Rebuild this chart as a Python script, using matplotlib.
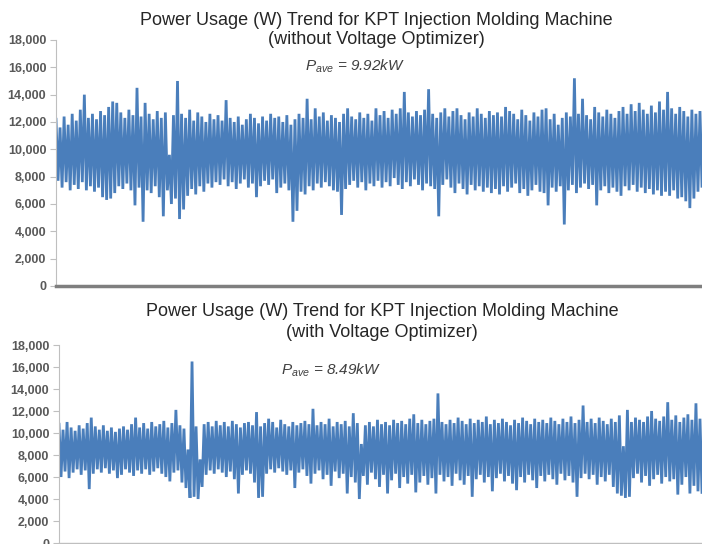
'''
Power usage trend of the KPT injection molding machine,
without and with the voltage optimizer.
'''

import numpy as np
import matplotlib.pyplot as plt

plt.rcParams['font.family'] = ['Liberation Sans', 'DejaVu Sans']
plt.rcParams['mathtext.fontset'] = 'custom'
plt.rcParams['mathtext.it'] = 'Liberation Sans:italic'
plt.rcParams['mathtext.rm'] = 'Liberation Sans'

top_high = [12200, 11600, 12400, 11800, 12600, 12100, 12900, 14000, 12300, 12600,
            12200, 12800, 12500, 13100, 13500, 13400, 12700, 12300, 12900, 12500,
            14500, 12400, 13400, 12600, 12200, 12800, 12300, 12700, 9600, 12500,
            15000, 12600, 12300, 12900, 12100, 12700, 12400, 12000, 12600, 12200,
            12500, 12100, 13600, 12300, 12000, 12400, 11800, 12200, 12600, 12300,
            11900, 12400, 12100, 12600, 12300, 12400, 12000, 12500, 11800, 12200,
            12600, 12300, 13700, 12200, 13000, 12400, 12700, 12100, 12500, 12300,
            12000, 12600, 13000, 12400, 12200, 12700, 12300, 12600, 12100, 13000,
            12500, 12800, 12300, 12900, 12600, 13000, 14200, 12700, 12400, 12800,
            12500, 12900, 14400, 12600, 12300, 12700, 13000, 12400, 12800, 13000,
            12500, 12200, 12700, 12400, 13000, 12600, 12300, 12800, 12500, 12700,
            12400, 13100, 12800, 12600, 12200, 12900, 12500, 12100, 12700, 12400,
            12900, 13000, 12200, 12600, 11800, 12300, 12700, 12400, 15200, 12600,
            13700, 12500, 12200, 13100, 12700, 12400, 12900, 12600, 12300, 12800,
            13100, 12600, 13300, 12800, 13400, 12900, 12600, 13200, 12700, 13500,
            12900, 14200, 13000, 12600, 13100, 12800, 12400, 12900, 12600, 12800]
top_low = [7700, 7200, 7600, 7000, 7400, 7100, 7600, 7000, 7300, 6900,
           7200, 6500, 6300, 6400, 6800, 7300, 7100, 7500, 7000, 5900,
           7200, 4700, 7000, 6800, 7300, 6500, 5100, 7000, 6000, 6400,
           4900, 5600, 6600, 7100, 6700, 7300, 6900, 7500, 7200, 7600,
           7400, 7800, 7300, 7600, 7100, 7500, 7800, 7200, 7500, 6500,
           7300, 7700, 7400, 7800, 6800, 7200, 7500, 7000, 4700, 5500,
           6900, 6700, 7300, 7000, 7500, 7200, 7600, 7300, 7000, 6900,
           5200, 7100, 7400, 7700, 7200, 7600, 7000, 7500, 7300, 7700,
           7200, 7600, 7300, 7900, 7400, 7100, 7600, 7300, 7800, 7400,
           7000, 7500, 7300, 7100, 5100, 7400, 7800, 7200, 6800, 7500,
           7100, 6700, 7400, 7000, 7300, 6900, 7200, 6800, 7100, 6700,
           7300, 6900, 7200, 7500, 6800, 7100, 6600, 7000, 7400, 6900,
           6800, 5900, 7200, 6900, 7300, 4500, 7000, 7400, 6800, 7200,
           7500, 7100, 7400, 5900, 7000, 7300, 6800, 7200, 6900, 6600,
           7300, 7000, 7400, 6900, 7200, 6800, 7100, 6700, 7000, 6600,
           6900, 6600, 7000, 6400, 6500, 6200, 5700, 6400, 6900, 7300]

bottom_high = [10800, 10300, 11000, 10500, 10200, 10700, 10400, 10900, 11400, 10600,
               10300, 10700, 10200, 10500, 10100, 10400, 10600, 10300, 10800, 11400,
               10500, 10900, 10400, 11000, 10600, 10800, 11100, 10500, 10900, 12100,
               10700, 10400, 8500, 16500, 10600, 7600, 10800, 11000, 10600, 11100,
               10700, 11000, 10600, 11100, 10800, 10500, 10900, 11000, 10700, 11900,
               10600, 10900, 11300, 11000, 10500, 11200, 10800, 10600, 11000, 10700,
               10900, 11100, 10800, 12200, 10700, 11000, 10800, 11300, 10600, 11000,
               10800, 11100, 10600, 11800, 10900, 9000, 10700, 11000, 10600, 11200,
               10800, 11000, 10700, 11200, 10900, 11100, 10800, 11300, 11700, 10900,
               11200, 10800, 11100, 11300, 13600, 11000, 10800, 11200, 10900, 11400,
               11100, 10800, 11300, 10900, 11200, 11000, 11500, 10800, 11200, 10900,
               11300, 11000, 10700, 11200, 10900, 11400, 11100, 10800, 11300, 11000,
               11200, 10900, 11400, 11100, 10800, 11300, 11000, 11500, 10900, 11200,
               12500, 11000, 11300, 10900, 11400, 11100, 10800, 11300, 11000, 11600,
               8800, 12100, 11000, 11400, 11200, 11000, 11500, 12000, 11300, 11100,
               11500, 12800, 11200, 11600, 11000, 11400, 11700, 11200, 12700, 11300]
bottom_low = [6000, 6500, 5900, 6400, 6700, 6200, 6600, 4900, 6300, 6700,
              6400, 6800, 6300, 6600, 5900, 6200, 6700, 6400, 6100, 6600,
              6300, 6700, 6200, 6500, 6800, 6300, 6000, 5600, 6400, 6600,
              5500, 5000, 4100, 4200, 4000, 5100, 6200, 6600, 6300, 6700,
              6400, 6000, 6500, 5800, 4500, 6200, 6600, 6300, 5500, 4100,
              4200, 6300, 6700, 6400, 6800, 6500, 6200, 6600, 5000, 6400,
              6700, 6100, 5400, 6300, 6600, 5800, 6200, 5200, 6500, 5900,
              6300, 4500, 6000, 5500, 4000, 6100, 5300, 6400, 5800, 5100,
              6200, 4500, 5700, 6300, 5000, 6000, 5400, 6200, 4600, 5500,
              6100, 5300, 5900, 4500, 6200, 5600, 6000, 5200, 6300, 5700,
              5300, 6100, 4200, 5800, 6200, 5500, 6000, 4700, 5900, 6300,
              5600, 6100, 5400, 4800, 6000, 5500, 6200, 5700, 5000, 6100,
              5600, 6200, 5800, 5300, 6300, 5700, 6100, 5500, 4200, 5900,
              6300, 5800, 6200, 5300, 6000, 5600, 6200, 5100, 4500, 4300,
              4100, 4200, 5900, 6300, 5500, 6100, 5200, 5800, 6200, 5400,
              6000, 5600, 5800, 4400, 5300, 6000, 4500, 5200, 4700, 4600]

titles = ['Power Usage (W) Trend for KPT Injection Molding Machine\n(without Voltage Optimizer)',
          'Power Usage (W) Trend for KPT Injection Molding Machine\n(with Voltage Optimizer)']
averages = ['9.92kW', '8.49kW']
y_ticks = [0, 2000, 4000, 6000, 8000, 10000, 12000, 14000, 16000, 18000]

LINE_BLUE = '#4A7EBB'
GRID_GRAY = '#BFBFBF'
LABEL_GRAY = '#595959'


def interleave(high, low):
    # one spike per slot: top reading then bottom reading
    series = np.empty(2 * len(high))
    series[0::2] = high
    series[1::2] = low
    return series


def style_axis(ax, bottom_color, bottom_width):
    ax.set_ylim(0, 18000)
    ax.set_yticks(y_ticks)
    ax.set_yticklabels([f'{t:,}' for t in y_ticks])
    ax.set_xticks([])
    for side in ('top', 'right'):
        ax.spines[side].set_visible(False)
    ax.spines['left'].set_color(GRID_GRAY)
    ax.spines['bottom'].set_color(bottom_color)
    ax.spines['bottom'].set_linewidth(bottom_width)
    ax.tick_params(axis='y', direction='out', length=4, width=0.8,
                   color=GRID_GRAY, labelcolor=LABEL_GRAY, labelsize=9, pad=3)
    for label in ax.get_yticklabels():
        label.set_fontweight('bold')


fig = plt.figure(figsize=(7.02, 5.44), dpi=100)

ax1 = fig.add_axes([56 / 702, 258 / 544, 646 / 702, 246 / 544])
ax2 = fig.add_axes([59 / 702, 1 / 544, 643 / 702, 198 / 544])

series_top = interleave(top_high, top_low)
series_bottom = interleave(bottom_high, bottom_low)

ax1.plot(np.arange(len(series_top)), series_top, color=LINE_BLUE, linewidth=2.0,
         solid_joinstyle='miter')
ax1.set_xlim(0, len(series_top) - 1)
style_axis(ax1, '#7F7F7F', 2.5)

ax2.plot(np.arange(len(series_bottom)), series_bottom, color=LINE_BLUE, linewidth=2.0,
         solid_joinstyle='miter')
ax2.set_xlim(0, len(series_bottom) - 1)
style_axis(ax2, GRID_GRAY, 1.0)

fig.text(376 / 702, 1 - 30 / 544, titles[0], ha='center', va='center',
         fontsize=13, color='#262626', linespacing=1.2)
fig.text(382 / 702, 1 - 322 / 544, titles[1], ha='center', va='center',
         fontsize=13, color='#262626', linespacing=1.3)

fig.text(355 / 702, 1 - 66 / 544, r'$P_{ave}$ = ' + averages[0], ha='center', va='center',
         fontsize=11, style='italic', color='#404040')
fig.text(331 / 702, 1 - 370 / 544, r'$P_{ave}$ = ' + averages[1], ha='center', va='center',
         fontsize=11, style='italic', color='#404040')

fig.savefig('out.png', dpi=100)
